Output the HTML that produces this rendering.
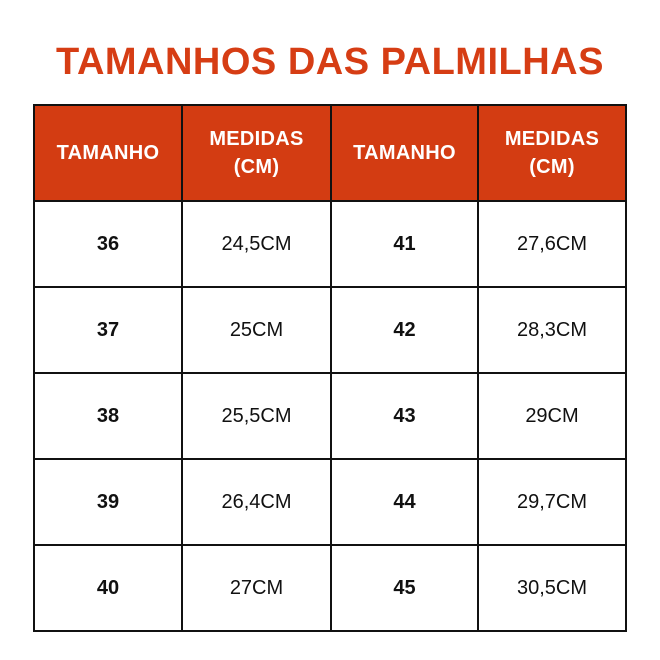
<!DOCTYPE html>
<html><head><style>
body{margin:0;width:660px;height:660px;background:#fff;font-family:"Liberation Sans",sans-serif;position:relative;overflow:hidden}
h1{position:absolute;top:41px;left:0;width:660px;margin:0;text-align:center;font-size:38px;font-weight:bold;color:#d63d14;letter-spacing:0.5px}
table{position:absolute;left:33px;top:104px;border-collapse:collapse;}
td{border:2px solid #111;text-align:center;font-size:20px;color:#111;padding:0}
tr.h td{background:#d33c12;color:#fff;font-weight:bold;font-size:20px;height:94px;line-height:28px;letter-spacing:0.3px}
tr.r td{height:84px}
.b{font-weight:bold}
</style></head><body>
<h1>TAMANHOS DAS PALMILHAS</h1>
<table>
<colgroup><col style="width:148px"><col style="width:149px"><col style="width:147px"><col style="width:148px"></colgroup>
<tr class="h"><td>TAMANHO</td><td>MEDIDAS<br>(CM)</td><td>TAMANHO</td><td>MEDIDAS<br>(CM)</td></tr>
<tr class="r"><td class="b">36</td><td>24,5CM</td><td class="b">41</td><td>27,6CM</td></tr>
<tr class="r"><td class="b">37</td><td>25CM</td><td class="b">42</td><td>28,3CM</td></tr>
<tr class="r"><td class="b">38</td><td>25,5CM</td><td class="b">43</td><td>29CM</td></tr>
<tr class="r"><td class="b">39</td><td>26,4CM</td><td class="b">44</td><td>29,7CM</td></tr>
<tr class="r"><td class="b">40</td><td>27CM</td><td class="b">45</td><td>30,5CM</td></tr>
</table>
</body></html>
